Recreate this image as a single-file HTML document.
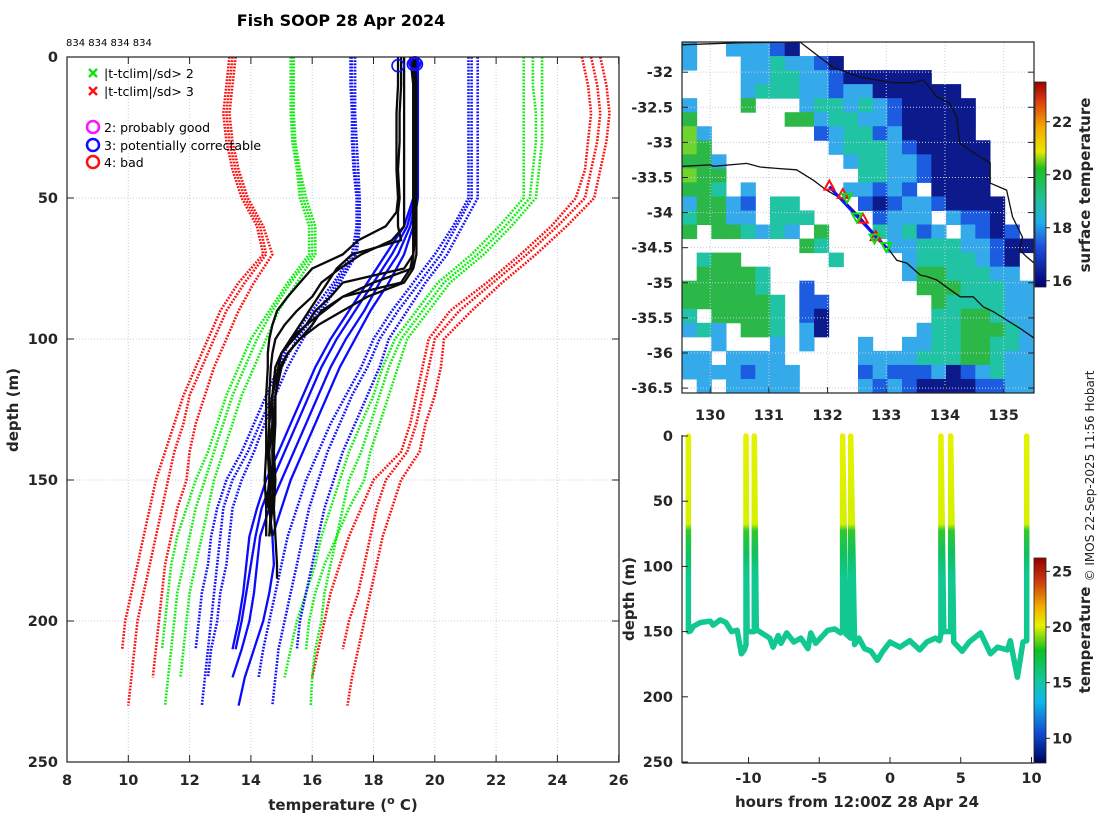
<!DOCTYPE html>
<html><head><meta charset="utf-8"><style>
html,body{margin:0;padding:0;background:#fff;}
svg{display:block;font-family:"DejaVu Sans","Liberation Sans",sans-serif;}
.tk{font-size:14.5px;font-weight:bold;fill:#262626;}
.lb{font-size:15px;font-weight:bold;fill:#262626;}
</style></head><body>
<svg id="fig" width="1100" height="820" viewBox="0 0 1100 820" xmlns="http://www.w3.org/2000/svg">
<defs>
<linearGradient id="cbSst" x1="0" y1="0" x2="0" y2="1">
<stop offset="0" stop-color="#a00000"/><stop offset="0.1" stop-color="#e04010"/><stop offset="0.22" stop-color="#f5a800"/><stop offset="0.34" stop-color="#e8e800"/><stop offset="0.42" stop-color="#20c020"/><stop offset="0.58" stop-color="#20c0a0"/><stop offset="0.68" stop-color="#20b0e8"/><stop offset="0.8" stop-color="#2050e0"/><stop offset="1" stop-color="#000070"/>
</linearGradient>
<linearGradient id="cbT" x1="0" y1="0" x2="0" y2="1">
<stop offset="0" stop-color="#900000"/><stop offset="0.12" stop-color="#d04010"/><stop offset="0.24" stop-color="#f0b000"/><stop offset="0.33" stop-color="#e8f000"/><stop offset="0.45" stop-color="#10c020"/><stop offset="0.6" stop-color="#10c8a0"/><stop offset="0.7" stop-color="#10b8e8"/><stop offset="0.85" stop-color="#1050d0"/><stop offset="1" stop-color="#000060"/>
</linearGradient>
<linearGradient id="traceGrad" gradientUnits="userSpaceOnUse" x1="0" y1="436" x2="0" y2="762">
<stop offset="0" stop-color="#e4f200"/><stop offset="0.27" stop-color="#d4f000"/><stop offset="0.29" stop-color="#30c830"/><stop offset="0.36" stop-color="#10c060"/><stop offset="0.43" stop-color="#10c890"/><stop offset="1" stop-color="#10c890"/>
</linearGradient>
</defs>
<g id="left"></g><g id="map"></g><g id="bot"></g>
<text x="341" y="26" text-anchor="middle" style="font-size:16px;font-weight:bold">Fish SOOP 28 Apr 2024</text>
<text x="66" y="46" style="font-size:10px">834 834 834 834</text>
<text transform="translate(1094,476) rotate(-90)" text-anchor="middle" style="font-size:12px;fill:#222">© IMOS 22-Sep-2025 11:56 Hobart</text>
</svg>
<script>
const NS="http://www.w3.org/2000/svg";
function mk(p,t,a){const e=document.createElementNS(NS,t);for(const k in a)e.setAttribute(k,a[k]);p.appendChild(e);return e;}
// ===== left profile chart data =====
const depthLevels=[0,10,20,30,40,50,60,70,80,90,100,110,120,130,140,150,160,170,180,190,200,210,220,230];
const redLeft1=[13.3,13.2,13.1,13.2,13.4,13.7,14.2,14.4,13.6,13.0,12.6,12.2,11.8,11.5,11.2,10.9,10.7,10.5,10.3,10.1,9.9,9.8];
const redLeft2=[13.4,13.3,13.2,13.3,13.5,13.8,14.3,14.5,13.8,13.2,12.8,12.4,12.0,11.8,11.5,11.3,11.1,10.9,10.7,10.5,10.3,10.2,10.1,10.0];
const redLeft3=[13.5,13.4,13.3,13.4,13.6,13.9,14.4,14.7,14.1,13.6,13.2,12.8,12.5,12.2,12.0,11.9,11.6,11.4,11.2,11.1,11.0,10.9,10.8];
const greenLeft1=[15.3,15.3,15.3,15.35,15.5,15.6,15.9,15.9,15.2,14.6,14.0,13.6,13.2,12.9,12.6,12.2,11.9,11.6,11.4,11.3,11.2,11.1];
const greenLeft2=[15.35,15.35,15.35,15.4,15.55,15.7,16.0,16.0,15.3,14.7,14.2,13.8,13.4,13.1,12.8,12.5,12.2,12.0,11.8,11.6,11.5,11.4,11.3,11.2];
const greenLeft3=[15.4,15.4,15.4,15.45,15.6,15.8,16.1,16.1,15.5,14.9,14.5,14.1,13.7,13.4,13.1,12.8,12.6,12.4,12.2,12.0,11.9,11.8,11.7];
const blueLeft1=[17.25,17.25,17.3,17.3,17.35,17.45,17.45,17.3,16.7,16.0,15.3,14.9,14.5,14.1,13.7,13.2,12.9,12.7,12.6,12.4,12.3,12.2];
const blueLeft2=[17.3,17.3,17.35,17.35,17.4,17.5,17.5,17.4,16.8,16.2,15.5,15.0,14.7,14.3,13.9,13.4,13.1,13.0,12.9,12.8,12.7,12.6,12.5,12.4];
const blueLeft3=[17.4,17.4,17.4,17.45,17.5,17.55,17.55,17.45,16.9,16.3,15.7,15.2,14.8,14.45,14.1,13.7,13.4,13.3,13.2,13.0,12.9,12.7,12.6];
const blueRight1=[21.1,21.1,21.1,21.1,21.1,21.1,20.6,20.0,19.3,18.6,18.0,17.6,17.1,16.6,16.2,15.8,15.5,15.2,15.0,14.8,14.6,14.4,14.25];
const blueRight2=[21.2,21.2,21.2,21.2,21.2,21.2,20.7,20.2,19.5,18.8,18.2,17.8,17.3,16.9,16.5,16.2,15.9,15.7,15.5,15.3,15.1,14.9,14.8,14.7];
const blueRight3=[21.4,21.4,21.4,21.4,21.4,21.4,20.9,20.4,19.7,19.1,18.5,18.2,17.8,17.4,17.0,16.7,16.4,16.2,16.0,15.8,15.6,15.5];
const greenRight1=[22.9,22.9,22.9,22.9,22.9,22.9,22.1,21.2,20.1,19.4,18.7,18.3,18.0,17.6,17.2,16.9,16.6,16.3,16.1,15.8,15.5,15.3,15.1];
const greenRight2=[23.2,23.2,23.3,23.3,23.2,23.1,22.3,21.4,20.3,19.6,18.9,18.5,18.2,17.9,17.6,17.2,17.0,16.8,16.6,16.4,16.3,16.1,16.0,15.95];
const greenRight3=[23.5,23.5,23.5,23.5,23.4,23.3,22.5,21.6,20.5,19.8,19.1,18.8,18.5,18.2,17.9,17.7,17.2,16.8,16.4,16.1,15.9,15.8];
const redRight1=[24.8,25.0,25.1,25.0,24.9,24.6,23.8,22.8,21.7,20.5,19.8,19.6,19.4,19.2,18.9,18.0,17.6,17.2,16.9,16.6,16.4,16.2,16.0];
const redRight2=[25.1,25.3,25.4,25.3,25.1,24.9,24.0,23.0,21.9,20.8,20.0,19.8,19.6,19.4,19.1,18.4,18.1,17.9,17.7,17.5,17.2,17.0];
const redRight3=[25.4,25.6,25.7,25.6,25.4,25.2,24.3,23.3,22.2,21.2,20.3,20.2,20.0,19.7,19.5,18.9,18.6,18.3,18.1,17.9,17.7,17.5,17.3,17.15];
const bluePro1=[19.3,19.3,19.3,19.3,19.3,19.3,19.0,18.4,17.8,17.2,16.6,16.1,15.7,15.3,14.9,14.5,14.2,13.95,13.85,13.75,13.6,13.4];
const bluePro2=[19.35,19.35,19.35,19.35,19.35,19.35,19.1,18.6,18.0,17.4,16.8,16.3,15.9,15.5,15.1,14.7,14.35,14.15,14.0,13.85,13.7,13.5];
const bluePro3=[19.4,19.4,19.4,19.4,19.4,19.4,19.2,18.8,18.2,17.7,17.1,16.6,16.2,15.8,15.4,15.0,14.6,14.3,14.2,14.1,13.95,13.7,13.4];
const bluePro4=[19.45,19.45,19.45,19.45,19.45,19.45,19.3,19.0,18.5,17.9,17.4,16.9,16.5,16.1,15.7,15.3,15.0,14.7,14.75,14.6,14.4,14.1,13.8,13.6];
const blackDepth=[0,10,20,30,40,50,55,60,65,70,75,80,85,90,95,100,105,110,120,130,140,150,160,170,180,185];
const black1=[18.8,18.8,18.75,18.75,18.75,18.8,18.75,18.4,17.5,17.0,16.0,15.6,15.2,14.85,14.7,14.6,14.55,14.55,14.5,14.5,14.5,14.45,14.5,14.5];
const black2=[18.9,18.9,18.85,18.85,18.8,18.85,18.8,18.8,18.9,17.3,16.8,16.5,16.2,15.9,15.6,15.3,15.0,14.8,14.7,14.6,14.55,14.6,14.5];
const black3=[19.2,19.3,19.3,19.3,19.3,19.3,19.3,19.3,19.3,19.3,19.0,17.0,16.6,16.1,15.8,15.4,15.0,14.9,14.7,14.7,14.6,14.65,14.6,14.7];
const black4=[19.3,19.35,19.35,19.35,19.35,19.35,19.35,19.35,19.35,19.3,19.2,18.9,17.0,16.3,16.0,15.6,15.2,15.0,14.8,14.75,14.7,14.7,14.7,14.6];
const black5=[19.35,19.4,19.4,19.4,19.4,19.4,19.4,19.4,19.4,19.4,19.3,19.0,17.8,17.0,16.2,15.6,15.2,14.95,14.8,14.8,14.75,14.8,14.75,14.8,14.85,14.85];
const black6=[19.3,19.3,19.3,19.3,19.3,19.3,19.3,19.3,19.3,19.3,19.25,18.0,17.0,16.4,15.8,15.3,15.0,14.8,14.7,14.7,14.7,14.75,14.65,14.6];
const black7=[19.0,19.0,19.0,19.0,19.0,19.0,19.0,19.0,18.6,17.6,16.9,16.3,16.0,15.5,15.1,14.8,14.7,14.65,14.6,14.6,14.6,14.6,14.55];
const flagTemps=[18.8,19.3,19.35,19.4];
const flagDepths=[2,1.5,1,1.5];
const tempTicks=[8,10,12,14,16,18,20,22,24,26];
const depthTicks=[0,50,100,150,200,250];

// ===== map data =====
const lonTicks=[130,131,132,133,134,135];
const latTicks=[-32,-32.5,-33,-33.5,-34,-34.5,-35,-35.5,-36,-36.5];
const sstRows=[
"c  cccbd                ",
"c   cctccbd             ",
"    ccttccbdddddd       ",
"    ctttccbccdddddd     ",
"c   g   cttctcbddddd    ",
"g      ggcttccbddddd    ",
"yc       bcttbcddddd    ",
"yg        ctttcbddddd   ",
"ggc        cttccbdddd   ",
"ygg         ttccbdddd   ",
"ggt c      ccbcb dddd   ",
"cggcb tt    bdbccbdddd  ",
"tggcc ttt    bccc cbbd  ",
"g ggtctc g   tctbc cbdb ",
"        gt    cctttccbdd",
" tgg      t    cttttcbd ",
" ggggt         cggtttcc ",
"gggggt  b       gggtttcc",
"ggggggt bb       gttttcc",
"t ggggt bd       ttggtcc",
"ctc ggt cd      cttgggtc",
"  c   c c   c  ccttggttc",
"cc cccc     cccctttggtcc",
"ccccbccc    bcbbbcdbctcc",
" c ccccc    cbcbddddbbcc"];
const sstCodes=["d","b","c","t","g","y"];
const sstValues=[16.0,16.9,17.8,18.5,19.5,20.3];
const shelfLon=[129.53,130.0,130.06,130.62,130.85,131.13,131.47,131.76,131.98,132.27,132.55,132.84,133.01,133.18,133.35,133.58,133.69,133.86,134.09,134.26,134.48,134.65,134.82,135.05,135.28,135.52];
const shelfLat=[-33.34,-33.32,-33.34,-33.30,-33.35,-33.37,-33.39,-33.54,-33.68,-33.82,-34.06,-34.34,-34.49,-34.68,-34.72,-34.89,-34.91,-34.96,-35.10,-35.20,-35.20,-35.34,-35.41,-35.53,-35.65,-35.79];
const coastLon=[129.52,130.51,131.53,132.09,132.55,133.11,133.45,133.63,133.86,134.08,134.2,134.25,134.6,134.77,134.77,135.05,135.15,135.32,135.27,135.39,135.52];
const coastLat=[-31.61,-31.58,-31.57,-31.93,-32.07,-32.15,-32.15,-32.11,-32.35,-32.44,-32.64,-33.01,-33.21,-33.29,-33.58,-33.68,-34.06,-34.35,-34.53,-34.63,-34.72];
const trackLon=[132.03,133.0];
const trackLat=[-33.63,-34.5];
const redMarkLon=[132.03,132.26,132.6,132.82];
const redMarkLat=[-33.63,-33.75,-34.1,-34.35];
const greenMarkLon=[132.33,132.5,132.8,133.0];
const greenMarkLat=[-33.79,-34.07,-34.37,-34.49];
const sstCbTicks=[16,18,20,22];

// ===== time-depth trace data =====
const traceHours=[-14.25,-14.25,-14.1,-13.9,-13.4,-12.7,-12.5,-12.0,-11.6,-11.2,-10.8,-10.5,-10.3,-10.18,-10.18,-10.1,-9.59,-9.59,-9.45,-9.0,-8.5,-8.26,-7.9,-7.7,-7.3,-6.8,-6.3,-5.8,-5.6,-5.25,-4.4,-3.9,-3.5,-3.35,-3.35,-3.1,-2.78,-2.78,-2.5,-2.2,-1.8,-1.35,-0.9,-0.5,0.0,0.7,1.4,2.1,2.6,3.2,3.5,3.6,3.6,3.8,4.29,4.29,4.5,5.1,5.6,6.4,7.1,7.6,8.3,8.5,9.0,9.4,9.66,9.66];
const traceDepth=[0,150,149.5,146,143,142,145,141,143,150,149,167,164,160,0,150,150,0,148.5,151.5,155,162,153,159,151,158,155,163,151,159,149,148,151,150,0,152,155,0,160,155,163,165,172,165,158,162,157,164,158,155,157,152,0,150,150,0,158,165,158,151,167,162,164,157,185,158,157,0];
const hourTicks=[-10,-5,0,5,10];
const tCbTicks=[10,15,20,25];

// ===== scales =====
const xL=t=>67+(t-8)*30.65, yL=d=>57+d*2.82;
const xM=lo=>682+(lo-129.52)*58.7, yM=la=>42+(-31.57-la)*70.2;
const xH=h=>890+h*14.15, yH=d=>436+d*1.304;
const ySst=v=>82+(23.5-v)*26.5, yTc=v=>558+(26.2-v)*11.13;

// ===== left chart =====
const L=document.getElementById('left');
mk(L,'rect',{x:67,y:57,width:552,height:705,fill:'#fff'});
tempTicks.forEach(t=>{const g=mk(L,'line',{x1:xL(t),x2:xL(t),y1:57,y2:762,stroke:'#c4cce6','stroke-dasharray':'1 2'});
 mk(L,'line',{x1:xL(t),x2:xL(t),y1:762,y2:755,stroke:'#222'});mk(L,'line',{x1:xL(t),x2:xL(t),y1:57,y2:64,stroke:'#222'});
 const tx=mk(L,'text',{x:xL(t),y:785,'text-anchor':'middle',class:'tk'});tx.textContent=t;});
depthTicks.forEach(d=>{const g=mk(L,'line',{x1:67,x2:619,y1:yL(d),y2:yL(d),stroke:'#c4cce6','stroke-dasharray':'1 2'});
 mk(L,'line',{x1:67,x2:74,y1:yL(d),y2:yL(d),stroke:'#222'});mk(L,'line',{x1:612,x2:619,y1:yL(d),y2:yL(d),stroke:'#222'});
 const tx=mk(L,'text',{x:58,y:yL(d)+5,'text-anchor':'end',class:'tk'});tx.textContent=d;});
function prof(arr,deps,col,dotted,w,name){let p='';arr.forEach((t,i)=>{if(t==null)return;p+=(p?'L':'M')+xL(t).toFixed(1)+','+yL(deps[i]).toFixed(1);});
 const e=mk(L,'path',{d:p,fill:'none',stroke:col,'stroke-width':w,'stroke-linejoin':'round'});if(dotted)e.setAttribute('stroke-dasharray','1.8 1.4');
 }
[redLeft1,redLeft2,redLeft3,redRight1,redRight2,redRight3].forEach(a=>prof(a,depthLevels,'#ff1010',true,2.6,'clim-3sd-line'));
[greenLeft1,greenLeft2,greenLeft3,greenRight1,greenRight2,greenRight3].forEach(a=>prof(a,depthLevels,'#10ee10',true,2.6,'clim-2sd-line'));
[blueLeft1,blueLeft2,blueLeft3,blueRight1,blueRight2,blueRight3].forEach(a=>prof(a,depthLevels,'#1010ff',true,2.6,'clim-1sd-line'));
[bluePro1,bluePro2,bluePro3,bluePro4].forEach(a=>prof(a,depthLevels,'#0a0aff',false,2.3,'blue-profile'));
[black1,black2,black3,black4,black5,black6,black7].forEach(a=>prof(a,blackDepth,'#0a0a0a',false,2.3,'black-profile'));
flagTemps.forEach((t,i)=>{const c=mk(L,'circle',{cx:xL(t),cy:yL(flagDepths[i])+3,r:6,fill:'none',stroke:'#1010ff','stroke-width':1.6});});
mk(L,'rect',{x:67,y:57,width:552,height:705,fill:'none',stroke:'#222','stroke-width':1.2});
// legend
const leg=mk(L,'g',{});
function cross(x,y,c){mk(leg,'path',{d:`M${x-4},${y-4}L${x+4},${y+4}M${x-4},${y+4}L${x+4},${y-4}`,stroke:c,'stroke-width':2.4});}
function ltext(x,y,s,n){const t=mk(leg,'text',{x:x,y:y,style:'font-size:12.5px'});t.textContent=s;}
cross(93,73,'#10e010');ltext(104,78,'|t-tclim|/sd> 2','legend-entry-2sd');
cross(93,91,'#ff1010');ltext(104,96,'|t-tclim|/sd> 3','legend-entry-3sd');
[['#ff10ff','2: probably good',127],['#1010ff','3: potentially correctable',145],['#ff1010','4: bad',162]].forEach(a=>{mk(leg,'circle',{cx:93,cy:a[2],r:6,fill:'none',stroke:a[0],'stroke-width':2.5});ltext(104,a[2]+5,a[1],'legend-entry-flag');});
let t=mk(L,'text',{x:343,y:810,'text-anchor':'middle',class:'lb'});t.innerHTML='temperature (<tspan dy="-6" style="font-size:11px">o</tspan><tspan dy="6"> C)</tspan>';
t=mk(L,'text',{transform:'translate(18,410) rotate(-90)','text-anchor':'middle',class:'lb'});t.textContent='depth (m)';

// ===== map =====
const M=document.getElementById('map');
const cw=352/24,ch=351/25;
sstRows.forEach((row,r)=>{for(let c=0;c<row.length;c++){const k=sstCodes.indexOf(row[c]);if(k<0)continue;
 const v=sstValues[k];const col=v<16.5?'#0c1a8c':v<17.3?'#1c5ce0':v<18.1?'#34aaea':v<19?'#20c4a4':v<20?'#2cb848':'#70d430';
 const e=mk(M,'rect',{x:(682+c*cw).toFixed(2),y:(42+r*ch).toFixed(2),width:(cw+0.5).toFixed(2),height:(ch+0.5).toFixed(2),fill:col});
 }});
lonTicks.forEach(lo=>{mk(M,'line',{x1:xM(lo),x2:xM(lo),y1:42,y2:393,stroke:'#c4cce6','stroke-dasharray':'1 2'});mk(M,'line',{x1:xM(lo),x2:xM(lo),y1:393,y2:387,stroke:'#222'});
 const tx=mk(M,'text',{x:xM(lo),y:420,'text-anchor':'middle',class:'tk'});tx.textContent=lo;});
latTicks.forEach(la=>{mk(M,'line',{x1:682,x2:1034,y1:yM(la),y2:yM(la),stroke:'#c4cce6','stroke-dasharray':'1 2'});mk(M,'line',{x1:682,x2:688,y1:yM(la),y2:yM(la),stroke:'#222'});mk(M,'line',{x1:1028,x2:1034,y1:yM(la),y2:yM(la),stroke:'#222'});
 const tx=mk(M,'text',{x:673,y:yM(la)+5,'text-anchor':'end',class:'tk'});tx.textContent=la;});
function lineLL(lon,lat,col,w,name){let p='';lon.forEach((x,i)=>{p+=(i?'L':'M')+xM(x).toFixed(1)+','+yM(lat[i]).toFixed(1);});const e=mk(M,'path',{d:p,fill:'none',stroke:col,'stroke-width':w});}
lineLL(shelfLon,shelfLat,'#111',1.3,'shelf-contour');
lineLL(coastLon,coastLat,'#111',1.3,'coastline');
lineLL(trackLon,trackLat,'#1010ff',3,'ship-track');
redMarkLon.forEach((lo,i)=>{const x=xM(lo),y=yM(redMarkLat[i]);const e=mk(M,'path',{d:`M${x},${y-6}L${x+5},${y+3}L${x-5},${y+3}Z`,fill:'none',stroke:'#ff1010','stroke-width':2});});
greenMarkLon.forEach((lo,i)=>{const x=xM(lo),y=yM(greenMarkLat[i]);const e=mk(M,'path',{d:`M${x},${y+5}L${x+5},${y-4}L${x-5},${y-4}Z`,fill:'none',stroke:'#10e010','stroke-width':2});});
mk(M,'rect',{x:682,y:42,width:352,height:351,fill:'none',stroke:'#222','stroke-width':1.2});
let cb=mk(M,'rect',{x:1035,y:82,width:11,height:205,fill:'url(#cbSst)',stroke:'#222','stroke-width':0.8});
sstCbTicks.forEach(v=>{mk(M,'line',{x1:1046,x2:1050,y1:ySst(v),y2:ySst(v),stroke:'#222'});const tx=mk(M,'text',{x:1052,y:ySst(v)+5,class:'tk'});tx.textContent=v;});
t=mk(M,'text',{transform:'translate(1090,185) rotate(-90)','text-anchor':'middle',class:'lb'});t.textContent='surface temperature';

// ===== bottom right =====
const B=document.getElementById('bot');
let tp='';traceHours.forEach((h,i)=>{tp+=(i?'L':'M')+xH(h).toFixed(1)+','+yH(traceDepth[i]).toFixed(1);});
const tr=mk(B,'path',{d:tp,fill:'none',stroke:'url(#traceGrad)','stroke-width':5.5,'stroke-linejoin':'round','stroke-linecap':'round'});


mk(B,'line',{x1:682,x2:682,y1:435,y2:763,stroke:'#222','stroke-width':1.2});
mk(B,'line',{x1:682,x2:1034,y1:763,y2:763,stroke:'#222','stroke-width':1.2});
hourTicks.forEach(h=>{mk(B,'line',{x1:xH(h),x2:xH(h),y1:763,y2:757,stroke:'#222'});const tx=mk(B,'text',{x:xH(h),y:783,'text-anchor':'middle',class:'tk'});tx.textContent=h;});
depthTicks.forEach(d=>{mk(B,'line',{x1:682,x2:688,y1:yH(d),y2:yH(d),stroke:'#222'});const tx=mk(B,'text',{x:673,y:yH(d)+5,'text-anchor':'end',class:'tk'});tx.textContent=d;});
cb=mk(B,'rect',{x:1034,y:558,width:12,height:205,fill:'url(#cbT)',stroke:'#222','stroke-width':0.8});
tCbTicks.forEach(v=>{mk(B,'line',{x1:1046,x2:1050,y1:yTc(v),y2:yTc(v),stroke:'#222'});const tx=mk(B,'text',{x:1052,y:yTc(v)+5,class:'tk'});tx.textContent=v;});
t=mk(B,'text',{transform:'translate(1090,640) rotate(-90)','text-anchor':'middle',class:'lb'});t.textContent='temperature';
t=mk(B,'text',{x:857,y:807,'text-anchor':'middle',class:'lb'});t.textContent='hours from 12:00Z 28 Apr 24';
t=mk(B,'text',{transform:'translate(634,599) rotate(-90)','text-anchor':'middle',class:'lb'});t.textContent='depth (m)';
</script>
</body></html>
